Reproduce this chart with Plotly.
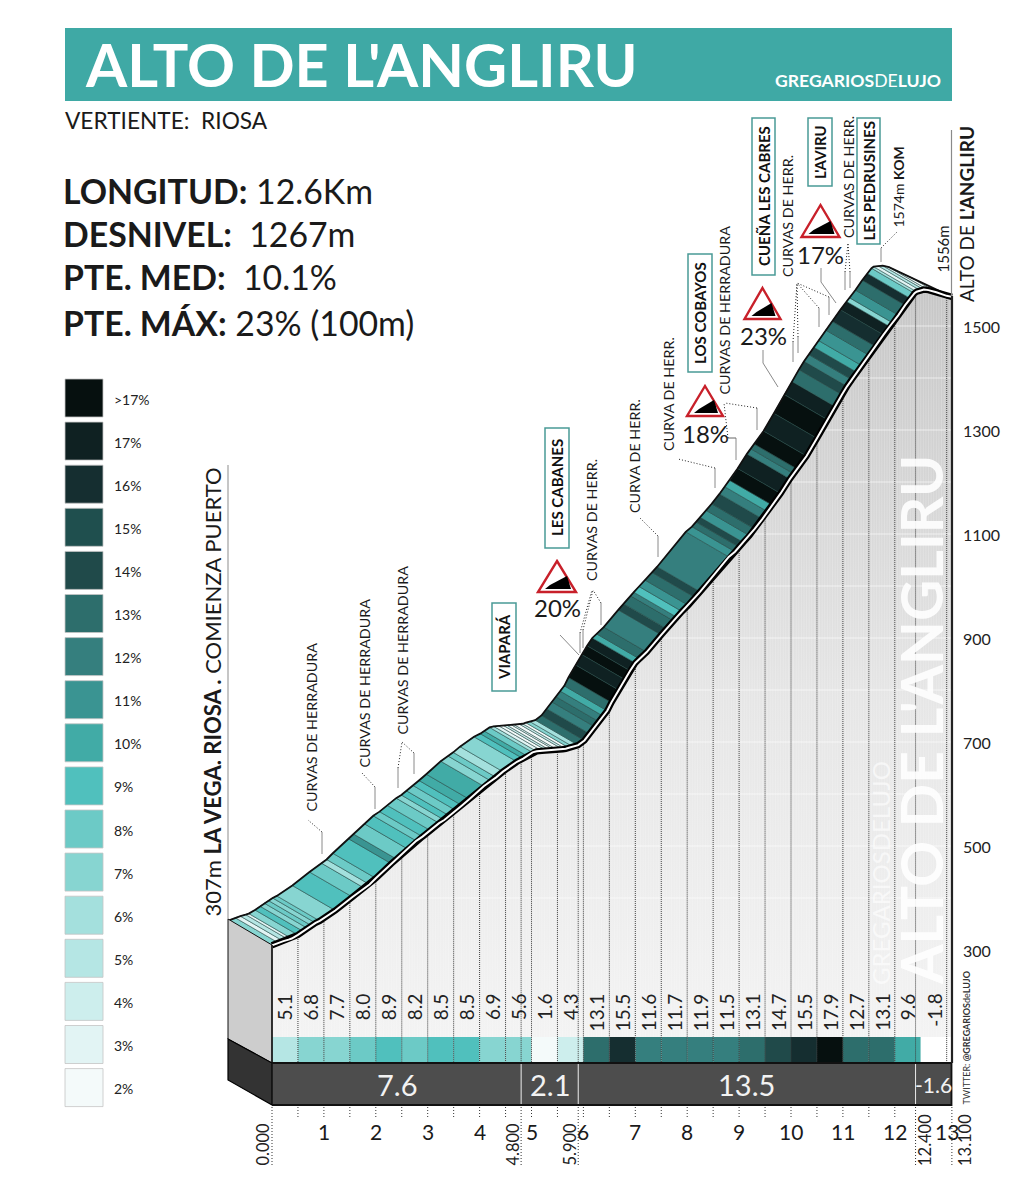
import numpy as np
import plotly.graph_objects as go

# ---------- DATA ----------
kms = [0.00,0.12,0.22,0.32,0.38,0.50,0.60,0.68,0.76,0.84,0.92,1.22,1.55,1.78,1.88,2.00,2.30,2.40,2.62,2.78,2.90,3.05,
       3.22,3.32,3.42,3.55,3.66,3.80,4.08,4.22,4.32,4.45,4.72,4.84,4.92,5.02,5.10,5.20,5.30,5.36,5.44,5.50,5.60,5.66,
       5.72,5.80,5.90,6.02,6.12,6.22,6.30,6.38,6.46,6.54,6.68,6.80,6.90,7.00,7.08,7.22,7.50,7.60,7.74,7.80,7.90,8.02,
       8.15,8.25,8.80,8.92,9.00,9.08,9.20,9.30,9.45,9.55,9.65,9.80,9.98,10.05,10.12,10.30,10.50,10.70,10.85,10.98,
       11.08,11.17,11.27,11.36,11.50,11.62,11.78,11.90,11.96,12.07,12.20,12.30,12.38,12.42,12.50,12.56,12.65,12.80,13.00,13.10]
alts = [309,314,317,320,322,329,336,342,347,352,356,376,402,419,426,438,466,475,494,510,518,530,
        544,550,558,568,578,590,615,625,632,643,662,668,673,680,682,683,683,684,685,685,686,687,
        689,691,694,703,716,729,739,750,760,776,800,820,837,852,860,873,906,918,933,940,951,963,
        978,989,1056,1066,1075,1084,1097,1110,1129,1143,1155,1178,1206,1216,1225,1250,1284,1320,1345,1368,
        1384,1397,1411,1424,1444,1461,1483,1499,1506,1521,1540,1553,1563,1566,1568,1570,1569,1565,1558,1556]
# gradient class of every stripe (18 stands for ">17%")
stripe_class = [7,3,5,3,7,9,7,8,7,8,7,9,8,6,8,9,11,8,9,8,9,8,
                7,9,8,9,10,10,7,8,6,7,9,10,8,6,3,2,4,2,3,2,4,2,
                7,6,13,14,12,13,12,10,13,18,17,18,17,10,13,12,14,13,12,9,11,13,
                14,12,11,13,14,11,13,14,12,10,18,17,12,13,18,17,18,17,13,14,
                12,14,10,11,13,16,17,7,11,13,16,8,6,3,5,3,2,2,2]

class_colors = {2:"#f4fafa",3:"#e2f4f4",4:"#cdeeed",5:"#b5e6e4",6:"#a4e0dd",7:"#87d5d1",8:"#6ccac6",9:"#50c0bd",
                10:"#41aba6",11:"#3a9492",12:"#357f7e",13:"#2d6e6c",14:"#204a4a",15:"#1f4f4e",16:"#152e30",
                17:"#0f2122",18:"#06100f"}
legend_labels = [">17%","17%","16%","15%","14%","13%","12%","11%","10%","9%","8%","7%","6%","5%","4%","3%","2%"]
legend_classes = [18,17,16,15,14,13,12,11,10,9,8,7,6,5,4,3,2]

bin_mid = [0.25,0.75,1.25,1.75,2.25,2.75,3.25,3.75,4.25,4.75,5.25,5.75,6.25,6.75,7.25,7.75,8.25,8.75,9.25,9.75,10.25,10.75,11.25,11.75,12.25,12.75]
bin_grad = [5.1,6.8,7.7,8.0,8.9,8.2,8.5,8.5,6.9,5.6,1.6,4.3,13.1,15.5,11.6,11.7,11.9,11.5,13.1,14.7,15.5,17.9,12.7,13.1,9.6,-1.8]
bin_class = [5,7,7,8,9,8,9,9,7,7,2,4,13,16,12,12,12,12,13,14,16,18,13,13,10,0]

sector_start = [0.0,4.8,5.9,12.4]
sector_end = [4.8,5.9,12.4,13.1]
sector_grad = ["7.6","2.1","13.5","-1.6"]
sector_marks = ["0.000","4.800","5.900","12.400","13.100"]
km_ticks = [1,2,3,4,5,6,7,8,9,10,11,12,13]
half_kms = [0.5,1,1.5,2,2.5,3,3.5,4,4.5,5,5.5,6,6.5,7,7.5,8,8.5,9,9.5,10,10.5,11,11.5,12]
alt_ticks = [300,500,700,900,1100,1300,1500]
grid_alts = [400,500,600,700,800,900,1000,1100,1200,1300,1400,1500]

# ---------- SCALES ----------
PXKM, PXM = 51.9, 0.52
X = lambda px: (px-272)/PXKM
Y = lambda py: 300+(950-py)/PXM
kms_a, alts_a = np.array(kms), np.array(alts, float)

# offset of the road surface (back edge) relative to the front edge
OFFX, OFFY = -43/PXKM, 25/PXM
taper = np.interp(kms_a,[0,12.45,12.65,12.9,13.1],[1,1,0.92,0.38,0])
bx, by = kms_a+OFFX*taper, alts_a+OFFY*taper

FONT, BOLD = "Lato", "Lato"
fig = go.Figure()

# grey wall below the profile
wx = [0]+kms+[13.1]
wy = [Y(1037)]+alts+[Y(1037)]
fig.add_trace(go.Scatter(x=wx,y=wy,mode="lines",line=dict(width=0),fill="toself",
    fillgradient=dict(type="vertical",colorscale=[[0,"#f3f3f3"],[0.45,"#e6e6e6"],[1,"#c6c6c6"]]),hoverinfo="skip"))

# faint vertical hatching and white grid
hx,hy=[],[]
for k in np.arange(0.05,13.1,0.05):
    hx+= [k,k,None]; hy+=[Y(1037),np.interp(k,kms_a,alts_a)-6,None]
fig.add_trace(go.Scatter(x=hx,y=hy,mode="lines",line=dict(color="rgba(255,255,255,0.2)",width=1),hoverinfo="skip"))
gx,gy=[],[]
for a in grid_alts:
    gx+=[np.interp(a,alts_a[:100],kms_a[:100]),13.1,None]; gy+=[a,a,None]
fig.add_trace(go.Scatter(x=gx,y=gy,mode="lines",line=dict(color="rgba(255,255,255,0.6)",width=1.2),hoverinfo="skip"))

# gradient strip (0.5 km bars)
fig.add_trace(go.Bar(x=bin_mid,y=[Y(1037)-Y(1062)]*len(bin_mid),base=Y(1062),width=0.5,
    marker=dict(color=[class_colors.get(c,"#ffffff") for c in bin_class],line=dict(width=0)),opacity=1,hoverinfo="skip"))
# dark sector bar
fig.add_trace(go.Bar(x=[(a+b)/2 for a,b in zip(sector_start,sector_end)],
    y=[Y(1063)-Y(1105)]*4,base=Y(1105),width=[b-a for a,b in zip(sector_start,sector_end)],
    marker=dict(color="#4d4d4d",line=dict(width=0)),hoverinfo="skip"))
# half-km dotted lines through the wall and strip
dx,dy=[],[]
for k in half_kms+[4.8,5.9,12.4,13.0]:
    dx+=[k,k,None]; dy+=[np.interp(k,kms_a,alts_a)-4,Y(1062),None]
fig.add_trace(go.Scatter(x=dx,y=dy,mode="lines",line=dict(color="#3c3c3c",width=1,dash="1px,1px"),hoverinfo="skip"))

# road-surface stripes
for i,c in enumerate(stripe_class):
    fig.add_trace(go.Scatter(x=[kms[i],kms[i+1],bx[i+1],bx[i],kms[i]],y=[alts[i],alts[i+1],by[i+1],by[i],alts[i]],
        mode="lines",fill="toself",fillcolor=class_colors[c],line=dict(color="#1d4341",width=0.55),hoverinfo="skip"))
fig.add_trace(go.Scatter(x=bx,y=by,mode="lines",line=dict(color="#111111",width=1.8),hoverinfo="skip"))
# front double line
fig.add_trace(go.Scatter(x=kms,y=alts,mode="lines",line=dict(color="#000000",width=6.4),hoverinfo="skip"))
fig.add_trace(go.Scatter(x=kms,y=alts,mode="lines",line=dict(color="#ffffff",width=2),hoverinfo="skip"))

shapes=[]
def poly(pts,fill,lc=None,lw=0,dash=None,layer="above"):
    path="M"+"L".join(f"{X(a):.4f},{Y(b):.3f}" for a,b in pts)+("Z" if fill else "")
    ln=dict(color=lc or "rgba(0,0,0,0)",width=lw)
    if dash: ln["dash"]=dash
    shapes.append(dict(type="path",path=path,xref="x",yref="y",fillcolor=fill or "rgba(0,0,0,0)",line=ln,layer=layer))
def seg(pts,c="#8a8a8a",w=1): poly(pts,None,c,w)
def dots(pts,c="#222222",w=1): poly(pts,None,c,w,"1px,2px")

# banner
poly([(65,28),(952,28),(952,101),(65,101)],"#3fa9a5",layer="below")
# left block of the profile
poly([(228,919),(272,945),(272,1063),(228,1039)],"#cdcdcd","#111111",1)
poly([(228,1039),(272,1063),(272,1105),(228,1080)],"#333333","#000000",1.2)
poly([(272,1063),(951.5,1063),(951.5,1105),(272,1105)],None,"#111111",1.8)
seg([(272,945),(272,1063)],"#111111",1.4)
seg([(952,296),(952,1063)],"#222222",2.2)
seg([(228,465),(228,919)],"#a0a0a0",1.2)
seg([(951.5,130),(951.5,296)],"#8a8a8a",1.2)
for k in sector_start[1:]:
    seg([(272+k*PXKM,1064),(272+k*PXKM,1104)],"#e6e6e6",1)
# ticks under the bar
for k in half_kms:
    dots([(272+k*PXKM,1107),(272+k*PXKM,1117)],"#333333",1)
for k in [0,4.8,5.9,12.4,13.1]:
    dots([(272+k*PXKM,1107),(272+k*PXKM,1165)],"#333333",1)

# legend swatches
for i,c in enumerate(legend_classes):
    t=379+i*43.1
    poly([(65,t),(103,t),(103,t+38),(65,t+38)],class_colors[c],"#c4c4c4",0.8,layer="below")

# warning signs
for ax,ay,w,h,tx in [(557,561,19,31,"20%"),(705,386,18,30,"18%"),(762.5,288,18,31,"23%"),(820.5,205,19,32,"17%")]:
    poly([(ax,ay),(ax+w,ay+h),(ax-w,ay+h)],"#ffffff","#c8202a",2.4)
    poly([(ax-w+7,ay+h-3),(ax-w+12,ay+h-7),(ax+w-9,ay+h-16),(ax+w-5,ay+h-3)],"#000000")

# leaders
seg([(322,854),(322,832)]); dots([(322,832),(308,820)])
seg([(375,809),(375,787)]); dots([(375,787),(362,773)])
seg([(398,788),(398,768)]); dots([(398,768),(402,742)])
seg([(414,774),(414,753)]); dots([(414,753),(402,742)])
seg([(580,653),(580,633)]); dots([(580,633),(592,590)])
seg([(583,648),(583,630)]); dots([(583,630),(593,590)])
seg([(601,625),(601,603)]); dots([(601,603),(593,590)])
seg([(658,557),(658,536)]); dots([(658,536),(640,518)])
seg([(715,488),(715,468)]); dots([(715,468),(678,459)])
seg([(736,460),(736,438)]); seg([(736,438),(728,438)],"#666666"); dots([(728,438),(724,403)])
seg([(757,430),(757,408)]); dots([(757,408),(725,403)])
seg([(579,655),(560,635)])
seg([(778,387),(763,363),(763,350)])
seg([(836,303),(821,282),(821,268)])
seg([(793,362),(793,342)]); dots([(793,342),(797,283)])
seg([(798,353),(798,337)]); dots([(798,337),(797,283)])
seg([(819,327),(819,308)]); dots([(819,308),(797,283)])
seg([(829,315),(829,297)]); dots([(829,297),(797,283)])
seg([(845,290),(845,272)]); dots([(845,272),(848,243)])
seg([(850,288),(850,272)]); dots([(850,272),(848,243)])
seg([(881,262),(881,248)]); dots([(881,248),(897,232)])

# name boxes
boxes=[("VIAPARÁ",492,516,603,691),("LES CABANES",545,569,428,548),("LOS COBAYOS",688,712,254,372),
       ("CUEÑA LES CABRES",752,775,118,275),("L'AVIRU",808,832,118,186),("LES PEDRUSINES",857,880,118,244)]
for _,l,r,t,b in boxes:
    poly([(l,t),(r,t),(r,b),(l,b)],"#ffffff","#4a9a96",1.5)

ann=[]
def T(px,py,s,size,color="#1a1a1a",angle=0,xa="left",ya="middle",fam=FONT,op=1):
    ann.append(dict(x=X(px),y=Y(py),xref="x",yref="y",text=s,showarrow=False,textangle=angle,xanchor=xa,yanchor=ya,
                    font=dict(family=fam,size=size,color=color),opacity=op,borderpad=0,borderwidth=0))

# watermark
T(921,985,"<b>ALTO DE L'ANGLIRU</b>",57,"#ffffff",-90,"center","bottom",op=0.9)
T(880,985,"GREGARIOSDELUJO",24,"#ffffff",-90,"center","bottom",op=0.6)
# header
T(85,64,"<b>ALTO DE L'ANGLIRU</b>",59.4,"#ffffff")
T(941,80,"<b>GREGARIOS</b>DE<b>LUJO</b>",17.6,"#ffffff",xa="right")
T(65,120,"VERTIENTE:  RIOSA",22.7)
for py,a,b in [(191,"LONGITUD:"," 12.6Km"),(234,"DESNIVEL:","  1267m"),(277,"PTE. MED:","  10.1%"),(323,"PTE. MÁX:"," 23% (100m)")]:
    T(63,py,f"<b>{a}</b>{b}",33.8)
# legend labels
for i,s in enumerate(legend_labels):
    T(114,399+i*43.1,s,14,"#222222")
# altitude ticks
for a in alt_ticks:
    ann.append(dict(x=13.1,y=a,xref="x",yref="y",xshift=9,text=str(a),showarrow=False,xanchor="left",yanchor="middle",
                    font=dict(family=FONT,size=16,color="#222222")))
# gradients per 0.5 km
for k,g in zip(bin_mid,bin_grad):
    ann.append(dict(x=k,y=Y(991),xref="x",yref="y",text=f"{g}",showarrow=False,textangle=-90,xanchor="center",yanchor="top",
                    font=dict(family=FONT,size=19,color="#222222")))
# sectors
for a,b,s in zip(sector_start,sector_end,sector_grad):
    ann.append(dict(x=(a+b)/2,y=Y(1084),xref="x",yref="y",text=s,showarrow=False,xanchor="center",yanchor="middle",
                    font=dict(family=FONT,size=29 if s!="-1.6" else 21,color="#f2f2f2")))
# km ticks
for k in km_ticks:
    ann.append(dict(x=k,y=Y(1131),xref="x",yref="y",text=str(k),showarrow=False,xanchor="center",yanchor="middle",
                    font=dict(family=FONT,size=21,color="#1a1a1a")))
for s,px in zip(sector_marks,[262,512,569,925,965]):
    T(px,1166,s,16.5,"#222222",-90,"center","bottom")
# rotated curve notes
for s,px,pb in [("CURVAS DE HERRADURA",311,812),("CURVAS DE HERRADURA",364,768),("CURVAS DE HERRADURA",402,735),
                ("CURVAS DE HERR.",591,581),("CURVA DE HERR.",634,513),("CURVA DE HERR.",668,451),
                ("CURVAS DE HERRADURA",724,395),("CURVAS DE HERR.",787,277),("CURVAS DE HERR.",848,238)]:
    T(px,pb,s,14.3,"#1a1a1a",-90,"center","bottom")
for s,l,r,t,b in boxes:
    T((l+r)/2,(t+b)/2,f"<b>{s}</b>",15,"#111111",-90,"center","middle")
for s,px,py in [("20%",557,607),("18%",705,433),("23%",763,335),("17%",820,254)]:
    T(px,py,s,24,"#1a1a1a",0,"center")
T(212,917,"307m <b>LA VEGA. RIOSA .</b> COMIENZA PUERTO",22,"#1a1a1a",-90,"center","bottom")
T(966,302,"ALTO DE <b>L'ANGLIRU</b>",19,"#1a1a1a",-90,"center","bottom")
T(942,273,"1556m",15,"#1a1a1a",-90,"center","bottom")
T(898,228,"1574m <b>KOM</b>",14,"#1a1a1a",-90,"center","bottom")
T(966,1105,"TWITTER: <b>@GREGARIOS</b>de<b>LUJO</b>",9,"#333333",-90,"center","bottom")

fig.update_layout(width=1022,height=1190,margin=dict(l=0,r=0,t=0,b=0),paper_bgcolor="#ffffff",plot_bgcolor="#ffffff",
    showlegend=False,barmode="overlay",shapes=shapes,annotations=ann,
    xaxis=dict(range=[X(0),X(1022)],visible=False,fixedrange=True),
    yaxis=dict(range=[Y(1190),Y(0)],visible=False,fixedrange=True))
fig.write_html("out.html",config=dict(displayModeBar=False),
    post_script="document.body.style.margin='0';document.body.style.overflow='hidden';")
